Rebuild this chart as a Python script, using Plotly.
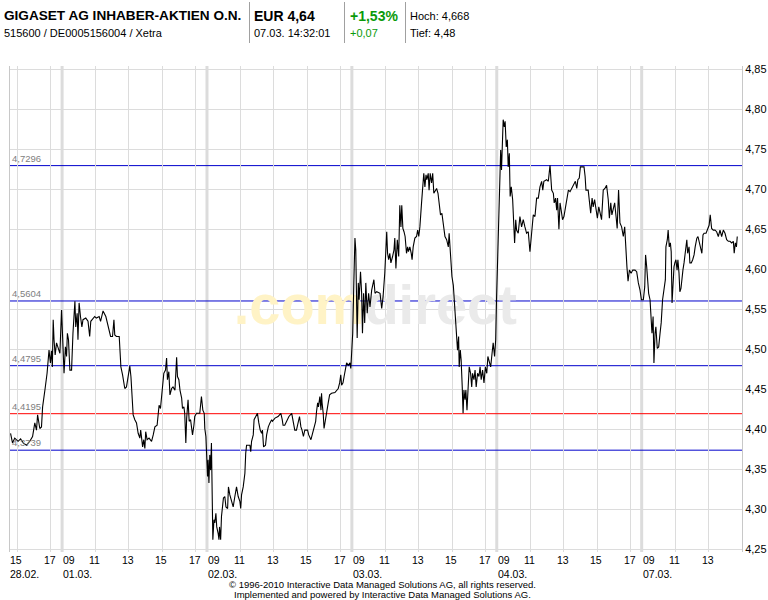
import plotly.graph_objects as go

# ---------------- data ----------------
DAY_LABELS = ["28.02.", "01.03.", "02.03.", "03.03.", "04.03.", "07.03."]
DAY_LEN = 8.665  # axis length of one trading session (09:00 - 17:40) in hours

times_0228 = ["14:35", "14:42", "14:50", "15:02", "15:11", "15:20", "15:32", "15:44", "15:54", "16:02",
              "16:08", "16:12", "16:20", "16:26", "16:30", "16:35", "16:39", "16:46", "16:50", "16:53",
              "16:58", "17:02", "17:05", "17:08", "17:11", "17:15", "17:20", "17:25", "17:32", "17:38"]
prices_0228 = [4.395, 4.383, 4.389, 4.385, 4.388, 4.383, 4.380, 4.385, 4.391, 4.408,
               4.399, 4.418, 4.401, 4.403, 4.428, 4.439, 4.451, 4.470, 4.487, 4.499,
               4.483, 4.498, 4.478, 4.537, 4.512, 4.493, 4.508, 4.501, 4.495, 4.549]

times_0103 = ["09:04", "09:07", "09:12", "09:16", "09:19", "09:23", "09:28", "09:34", "09:39", "09:46",
              "09:49", "09:54", "09:57", "10:01", "10:06", "10:11", "10:15", "10:25", "10:33", "10:39",
              "10:43", "10:51", "10:57", "11:03", "11:13", "11:18", "11:27", "11:37", "11:45", "11:54",
              "12:01", "12:06", "12:09", "12:15", "12:25", "12:31", "12:37", "12:45", "12:51", "12:57",
              "13:03", "13:07", "13:10", "13:15", "13:21", "13:27", "13:33", "13:39", "13:42", "13:49",
              "13:53", "13:57", "14:00", "14:05", "14:12", "14:21", "14:27", "14:33", "14:41", "14:45",
              "14:48", "14:53", "15:00", "15:05", "15:11", "15:15", "15:18", "15:23", "15:27", "15:33",
              "15:38", "15:45", "15:51", "15:54", "15:59", "16:03", "16:09", "16:12", "16:17", "16:20",
              "16:24", "16:27", "16:32", "16:36", "16:41", "16:44", "16:48", "16:53", "16:56", "17:02",
              "17:14", "17:20", "17:25", "17:30", "17:32", "17:36"]
prices_0103 = [4.487, 4.470, 4.503, 4.491, 4.520, 4.512, 4.474, 4.474, 4.520, 4.560,
               4.528, 4.545, 4.512, 4.558, 4.541, 4.528, 4.537, 4.539, 4.535, 4.516,
               4.535, 4.539, 4.541, 4.539, 4.541, 4.535, 4.548, 4.541, 4.528, 4.516,
               4.516, 4.537, 4.518, 4.516, 4.516, 4.478, 4.468, 4.451, 4.453, 4.466,
               4.479, 4.466, 4.441, 4.418, 4.412, 4.408, 4.395, 4.389, 4.399, 4.378,
               4.387, 4.376, 4.397, 4.387, 4.389, 4.385, 4.393, 4.403, 4.405, 4.420,
               4.430, 4.426, 4.453, 4.470, 4.474, 4.489, 4.462, 4.472, 4.443, 4.451,
               4.453, 4.449, 4.490, 4.466, 4.462, 4.449, 4.439, 4.426, 4.428, 4.420,
               4.383, 4.414, 4.437, 4.410, 4.412, 4.403, 4.393, 4.405, 4.416, 4.420,
               4.420, 4.441, 4.424, 4.420, 4.401, 4.391]

times_0203 = ["09:02", "09:04", "09:07", "09:10", "09:13", "09:16", "09:18", "09:21", "09:25", "09:28",
              "09:32", "09:35", "09:40", "09:43", "09:45", "09:49", "09:52", "09:56", "09:59", "10:04",
              "10:08", "10:14", "10:17", "10:22", "10:28", "10:34", "10:40", "10:46", "10:52", "10:58",
              "11:01", "11:04", "11:10", "11:16", "11:19", "11:22", "11:34", "11:37", "11:40", "11:46",
              "11:49", "11:54", "12:01", "12:06", "12:11", "12:16", "12:19", "12:23", "12:30", "12:34",
              "12:40", "12:46", "12:52", "12:55", "13:04", "13:15", "13:25", "13:30", "13:33", "13:39",
              "13:46", "13:54", "14:04", "14:09", "14:15", "14:21", "14:27", "14:32", "14:37", "14:41",
              "14:46", "14:51", "15:01", "15:05", "15:13", "15:17", "15:25", "15:30", "15:33", "15:37",
              "15:40", "15:45", "15:49", "15:51", "15:53", "15:57", "16:00", "16:05", "16:10", "16:15",
              "16:20", "16:27", "16:39", "16:46", "16:51", "16:56", "17:00", "17:03", "17:08", "17:12",
              "17:17", "17:21", "17:27", "17:33", "17:36"]
prices_0203 = [4.341, 4.362, 4.333, 4.368, 4.349, 4.383, 4.283, 4.262, 4.287, 4.283,
               4.295, 4.278, 4.270, 4.262, 4.278, 4.262, 4.291, 4.303, 4.314, 4.316,
               4.303, 4.301, 4.328, 4.318, 4.310, 4.303, 4.316, 4.328, 4.316, 4.310,
               4.301, 4.318, 4.328, 4.345, 4.370, 4.380, 4.380, 4.372, 4.385, 4.393,
               4.412, 4.416, 4.420, 4.408, 4.399, 4.395, 4.399, 4.378, 4.380, 4.393,
               4.403, 4.408, 4.412, 4.410, 4.414, 4.416, 4.420, 4.412, 4.405, 4.405,
               4.410, 4.416, 4.420, 4.410, 4.399, 4.399, 4.408, 4.416, 4.403, 4.399,
               4.391, 4.399, 4.399, 4.393, 4.387, 4.393, 4.401, 4.410, 4.422, 4.433,
               4.428, 4.441, 4.424, 4.445, 4.433, 4.420, 4.401, 4.410, 4.420, 4.433,
               4.443, 4.445, 4.446, 4.449, 4.451, 4.458, 4.468, 4.455, 4.458, 4.466,
               4.474, 4.483, 4.480, 4.483, 4.476]

times_0303 = ["09:03", "09:07", "09:11", "09:14", "09:17", "09:19", "09:23", "09:26", "09:31", "09:35",
              "09:38", "09:42", "09:46", "09:50", "09:55", "10:00", "10:05", "10:11", "10:19", "10:23",
              "10:29", "10:41", "10:47", "10:52", "10:58", "11:02", "11:05", "11:08", "11:12", "11:16",
              "11:20", "11:26", "11:31", "11:34", "11:38", "11:43", "11:48", "11:52", "11:56", "11:59",
              "12:03", "12:07", "12:11", "12:16", "12:20", "12:23", "12:28", "12:33", "12:36", "12:40",
              "12:46", "12:52", "12:56", "13:00", "13:04", "13:10", "13:14", "13:18", "13:22", "13:26",
              "13:29", "13:34", "13:37", "13:41", "13:46", "13:50", "13:54", "13:59", "14:04", "14:09",
              "14:13", "14:18", "14:23", "14:28", "14:34", "14:40", "14:46", "14:49", "14:52", "14:55",
              "14:59", "15:04", "15:07", "15:12", "15:16", "15:19", "15:23", "15:25", "15:29", "15:32",
              "15:36", "15:39", "15:42", "15:46", "15:49", "15:53", "15:58", "16:01", "16:06", "16:10",
              "16:13", "16:18", "16:22", "16:26", "16:31", "16:36", "16:40", "16:44", "16:49", "16:54",
              "16:59", "17:04", "17:08", "17:13", "17:18", "17:23", "17:27", "17:32", "17:36", "17:39"]
prices_0303 = [4.520, 4.583, 4.639, 4.624, 4.562, 4.514, 4.583, 4.562, 4.597, 4.570,
               4.520, 4.570, 4.533, 4.583, 4.545, 4.570, 4.553, 4.574, 4.587, 4.570,
               4.572, 4.570, 4.551, 4.566, 4.595, 4.624, 4.647, 4.620, 4.612, 4.620,
               4.608, 4.616, 4.624, 4.639, 4.601, 4.637, 4.616, 4.680, 4.653, 4.680,
               4.651, 4.647, 4.641, 4.620, 4.628, 4.622, 4.628, 4.620, 4.612, 4.628,
               4.639, 4.641, 4.649, 4.641, 4.653, 4.683, 4.699, 4.720, 4.703, 4.718,
               4.712, 4.720, 4.699, 4.720, 4.708, 4.720, 4.695, 4.699, 4.701, 4.695,
               4.685, 4.668, 4.670, 4.653, 4.641, 4.637, 4.628, 4.645, 4.626, 4.612,
               4.591, 4.580, 4.566, 4.541, 4.524, 4.499, 4.516, 4.478, 4.499, 4.487,
               4.453, 4.420, 4.449, 4.437, 4.449, 4.424, 4.458, 4.478, 4.470, 4.453,
               4.470, 4.462, 4.474, 4.453, 4.470, 4.466, 4.478, 4.462, 4.474, 4.458,
               4.478, 4.470, 4.491, 4.483, 4.478, 4.495, 4.508, 4.491, 4.512, 4.562]

times_0403 = ["09:03", "09:07", "09:10", "09:14", "09:17", "09:21", "09:23", "09:27", "09:30", "09:34",
              "09:38", "09:41", "09:45", "09:48", "09:52", "09:57", "10:01", "10:04", "10:08", "10:11",
              "10:17", "10:23", "10:29", "10:35", "10:41", "10:47", "10:53", "10:59", "11:05", "11:11",
              "11:17", "11:23", "11:29", "11:35", "11:41", "11:45", "11:49", "11:59", "12:05", "12:11",
              "12:17", "12:23", "12:26", "12:31", "12:35", "12:38", "12:43", "12:47", "12:51", "12:56",
              "13:01", "13:06", "13:11", "13:17", "13:23", "13:29", "13:34", "13:42", "13:47", "13:51",
              "13:56", "14:00", "14:08", "14:13", "14:17", "14:20", "14:28", "14:32", "14:37", "14:42",
              "14:46", "14:51", "14:56", "15:01", "15:06", "15:10", "15:16", "15:22", "15:28", "15:34",
              "15:40", "15:44", "15:49", "15:53", "15:58", "16:03", "16:08", "16:12", "16:17", "16:22",
              "16:28", "16:34", "16:39", "16:43", "16:47", "16:51", "16:56", "17:02", "17:08", "17:16",
              "17:22", "17:28", "17:34", "17:39"]
prices_0403 = [4.620, 4.662, 4.708, 4.749, 4.724, 4.758, 4.787, 4.778, 4.785, 4.753,
               4.762, 4.728, 4.745, 4.691, 4.703, 4.687, 4.641, 4.633, 4.662, 4.649,
               4.645, 4.666, 4.653, 4.662, 4.653, 4.645, 4.647, 4.622, 4.645, 4.668,
               4.666, 4.689, 4.689, 4.703, 4.710, 4.699, 4.710, 4.712, 4.710, 4.730,
               4.699, 4.695, 4.683, 4.689, 4.674, 4.689, 4.650, 4.683, 4.674, 4.662,
               4.666, 4.678, 4.691, 4.699, 4.697, 4.701, 4.705, 4.710, 4.701, 4.712,
               4.714, 4.728, 4.728, 4.728, 4.716, 4.699, 4.699, 4.689, 4.670, 4.689,
               4.678, 4.687, 4.674, 4.664, 4.678, 4.670, 4.662, 4.699, 4.701, 4.705,
               4.687, 4.664, 4.683, 4.668, 4.678, 4.683, 4.666, 4.651, 4.699, 4.658,
               4.653, 4.641, 4.653, 4.620, 4.603, 4.585, 4.599, 4.595, 4.599, 4.599,
               4.597, 4.583, 4.574, 4.562]

times_0703 = ["09:06", "09:11", "09:14", "09:18", "09:22", "09:25", "09:30", "09:33", "09:37", "09:41",
              "09:44", "09:48", "09:51", "09:56", "10:01", "10:06", "10:10", "10:15", "10:20", "10:25",
              "10:27", "10:32", "10:35", "10:39", "10:43", "10:46", "10:49", "10:52", "10:56", "10:59",
              "11:03", "11:07", "11:10", "11:14", "11:17", "11:21", "11:25", "11:28", "11:32", "11:37",
              "11:42", "11:45", "11:50", "11:53", "11:58", "12:03", "12:08", "12:12", "12:18", "12:22",
              "12:27", "12:32", "12:36", "12:40", "12:44", "12:51", "12:55", "13:02", "13:06", "13:11",
              "13:17", "13:23", "13:29", "13:35", "13:41", "13:47", "13:53", "13:59", "14:05", "14:11",
              "14:17", "14:23", "14:29", "14:32", "14:36", "14:40", "14:43"]
prices_0703 = [4.562, 4.578, 4.618, 4.603, 4.578, 4.570, 4.562, 4.545, 4.520, 4.541,
               4.483, 4.520, 4.528, 4.501, 4.503, 4.520, 4.533, 4.562, 4.578, 4.587,
               4.628, 4.637, 4.649, 4.628, 4.633, 4.622, 4.558, 4.587, 4.603, 4.608,
               4.612, 4.599, 4.612, 4.595, 4.572, 4.576, 4.595, 4.599, 4.608, 4.620,
               4.637, 4.620, 4.628, 4.608, 4.608, 4.612, 4.618, 4.628, 4.639, 4.641,
               4.633, 4.628, 4.620, 4.643, 4.645, 4.645, 4.649, 4.655, 4.668, 4.651,
               4.649, 4.649, 4.647, 4.641, 4.649, 4.641, 4.649, 4.645, 4.637, 4.635,
               4.635, 4.633, 4.635, 4.620, 4.633, 4.628, 4.641]

SESSIONS = [(times_0228, prices_0228), (times_0103, prices_0103), (times_0203, prices_0203),
            (times_0303, prices_0303), (times_0403, prices_0403), (times_0703, prices_0703)]

TICK_HOURS = [[15, 17], [9, 11, 13, 15, 17], [9, 11, 13, 15, 17], [9, 11, 13, 15, 17],
              [9, 11, 13, 15, 17], [9, 11, 13]]
Y_TICKS = [4.25, 4.30, 4.35, 4.40, 4.45, 4.50, 4.55, 4.60, 4.65, 4.70, 4.75, 4.80, 4.85]
LEVELS = [4.7296, 4.5604, 4.4795, 4.4195, 4.3739]
LEVEL_COLORS = ["#0000cc", "#0000cc", "#0000cc", "#ff0000", "#0000cc"]

HEADER = {
    "name": "GIGASET AG INHABER-AKTIEN O.N.",
    "ids": "515600 / DE0005156004 / Xetra",
    "price": "EUR 4,64",
    "time": "07.03. 14:32:01",
    "chg_pct": "+1,53%",
    "chg_abs": "+0,07",
    "high": "Hoch: 4,668",
    "low": "Tief: 4,48",
}
FOOTER = ["\u00a9 1996-2010 Interactive Data Managed Solutions AG, all rights reserved.",
          "Implemented and powered by Interactive Data Managed Solutions AG."]


def ax(day, hhmm):
    h, m = hhmm.split(":")
    return day * DAY_LEN + (int(h) - 9) + int(m) / 60.0


xs, ys = [], []
for d, (ts, ps) in enumerate(SESSIONS):
    xs += [ax(d, t) for t in ts]
    ys += ps

# ---------------- layout geometry ----------------
W, H = 768, 600
ML, MR, MT, MB = 10, 26, 66, 48
PW, PH = W - ML - MR, H - MT - MB


def pxx(x):
    return (x - ML) / PW


def pyy(y):
    return (H - MB - y) / PH


FONT = "Liberation Sans, Arial, sans-serif"

fig = go.Figure()

# watermark (drawn first so that the price line lies on top)
fig.add_trace(go.Scatter(
    x=[ax(3, "10:24")], y=[4.549], mode="text",
    text=['<b><span style="color:#fff3c6">.com</span><span style="color:#eaeaea">direct</span></b>'],
    textfont=dict(size=56, family="Liberation Sans, Arial"),
    hoverinfo="skip", showlegend=False))

fig.add_trace(go.Scatter(x=xs, y=ys, mode="lines", line=dict(color="#000000", width=1.1),
                         hoverinfo="skip", showlegend=False))

grid_vals = []
open_vals = []
for d, hours in enumerate(TICK_HOURS):
    for h in hours:
        v = ax(d, f"{h:02d}:00")
        (open_vals if h == 9 else grid_vals).append(v)

shapes = []
for v in open_vals:
    shapes.append(dict(type="line", xref="x", yref="paper", x0=v, x1=v, y0=0, y1=1,
                       line=dict(color="#dcdcdc", width=3), layer="below"))
for lv, col in zip(LEVELS, LEVEL_COLORS):
    shapes.append(dict(type="line", xref="paper", yref="y", x0=0, x1=1, y0=lv, y1=lv,
                       line=dict(color=col, width=1), layer="below"))
# header separators
for sx in [249.5, 344.5, 405.5]:
    shapes.append(dict(type="line", xref="paper", yref="paper", x0=pxx(sx), x1=pxx(sx),
                       y0=pyy(2), y1=pyy(43), line=dict(color="#a0a0a0", width=1)))

annotations = []
# level labels
for lv in LEVELS:
    annotations.append(dict(xref="paper", yref="y", x=0, y=lv, xanchor="left", yanchor="bottom",
                            text=f"{lv:.4f}".replace(".", ","), showarrow=False, borderpad=0,
                            xshift=1, yshift=1, font=dict(size=9.5, color="#808080", family=FONT)))
# x tick labels
for d, hours in enumerate(TICK_HOURS):
    for i, h in enumerate(hours):
        v = ax(d, f"{h:02d}:00")
        first_of_day = (i == 0)
        if first_of_day:
            txt = f"{h:02d}<br>{DAY_LABELS[d]}"
            shift = -9 if h != 9 else 0
            annotations.append(dict(xref="x", yref="paper", x=v, y=0, xanchor="left", yanchor="top",
                                    align="left", text=txt, showarrow=False, borderpad=0,
                                    xshift=shift, yshift=-1,
                                    font=dict(size=10.5, color="#000000", family=FONT)))
        else:
            annotations.append(dict(xref="x", yref="paper", x=v, y=0, xanchor="center", yanchor="top",
                                    text=f"{h:02d}", showarrow=False, borderpad=0, xshift=-1, yshift=-1,
                                    font=dict(size=10.5, color="#000000", family=FONT)))


def hdr(text, x, y, size, bold=False, color="#000000"):
    t = f"<b>{text}</b>" if bold else text
    annotations.append(dict(xref="paper", yref="paper", x=pxx(x), y=pyy(y), xanchor="left",
                            yanchor="middle", text=t, showarrow=False, borderpad=0,
                            font=dict(size=size, color=color, family=FONT)))


hdr(HEADER["name"], 3, 15.5, 13.6, True)
hdr(HEADER["ids"], 3, 32.5, 11)
hdr(HEADER["price"], 253, 15.5, 14, True)
hdr(HEADER["time"], 253, 32.5, 11)
hdr(HEADER["chg_pct"], 349, 15.5, 14, True, "#0a9a0a")
hdr(HEADER["chg_abs"], 349, 32.5, 11, False, "#0a9a0a")
hdr(HEADER["high"], 409, 16.5, 11)
hdr(HEADER["low"], 409, 32.5, 11)

for i, line in enumerate(FOOTER):
    annotations.append(dict(xref="paper", yref="paper", x=pxx(382), y=pyy(584.5 + 9.5 * i),
                            xanchor="center", yanchor="middle", text=line, showarrow=False,
                            borderpad=0, font=dict(size=9.5, color="#000000", family=FONT)))

y_lo = 4.25 - (MT + PH - 549.3) / 800.0
y_hi = 4.85 + (69.3 - MT) / 800.0

fig.update_layout(
    width=W, height=H, autosize=False,
    margin=dict(l=ML, r=MR, t=MT, b=MB, pad=0, autoexpand=False),
    paper_bgcolor="#ffffff", plot_bgcolor="#ffffff",
    separators=",.",
    showlegend=False,
    font=dict(family=FONT, size=11, color="#000000"),
    xaxis=dict(range=[ax(0, "14:33"), ax(5, "15:00")], tickvals=grid_vals, showticklabels=False,
               showgrid=True, gridcolor="#dcdcdc", gridwidth=1, zeroline=False, showline=False,
               ticks="", fixedrange=True, automargin=False),
    yaxis=dict(range=[y_lo, y_hi], tickvals=Y_TICKS, tickformat=".2f", side="right",
               showgrid=True, gridcolor="#dcdcdc", gridwidth=1, zeroline=False,
               showline=True, mirror=True, linecolor="#c8c8c8", linewidth=1, ticks="",
               tickfont=dict(size=11, color="#000000", family=FONT), fixedrange=True,
               automargin=False),
    shapes=shapes,
    annotations=annotations,
)

fig.write_html("out.html", config={"displayModeBar": False},
               post_script="document.body.style.margin='0';document.body.style.overflow='hidden';")
